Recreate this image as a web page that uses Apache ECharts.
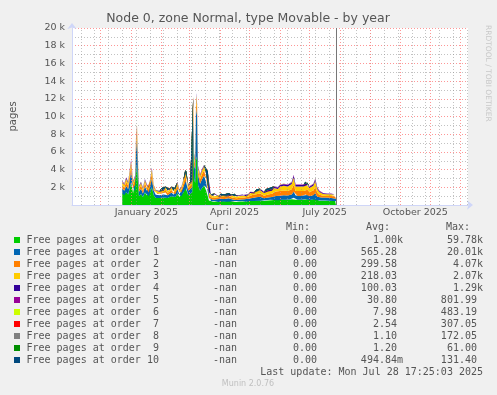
<!DOCTYPE html>
<html><head><meta charset="utf-8">
<script src="https://cdn.jsdelivr.net/npm/echarts@6/dist/echarts.min.js"></script>
<style>html,body{margin:0;padding:0;background:#F0F0F0}#c{width:497px;height:395px}</style>
</head><body><div id="c"></div>
<script>
const dates = [
'2024-12-23','2024-12-25','2024-12-27','2024-12-29','2024-12-31',
'2025-01-01','2025-01-03','2025-01-05','2025-01-06','2025-01-07',
'2025-01-08','2025-01-09','2025-01-11','2025-01-13','2025-01-15',
'2025-01-17','2025-01-19','2025-01-21','2025-01-22','2025-01-24',
'2025-01-26','2025-01-28','2025-01-30','2025-02-01','2025-02-03',
'2025-02-05','2025-02-07','2025-02-09','2025-02-11','2025-02-13',
'2025-02-15','2025-02-17','2025-02-19','2025-02-21','2025-02-23',
'2025-02-25','2025-02-26','2025-02-28','2025-03-02','2025-03-04',
'2025-03-05','2025-03-06','2025-03-07','2025-03-08','2025-03-09',
'2025-03-10','2025-03-12','2025-03-14','2025-03-16','2025-03-18',
'2025-03-20','2025-03-21','2025-03-23','2025-03-25','2025-03-27',
'2025-03-29','2025-03-31','2025-04-02','2025-04-04','2025-04-06',
'2025-04-08','2025-04-10','2025-04-12','2025-04-14','2025-04-16',
'2025-04-18','2025-04-20','2025-04-22','2025-04-24','2025-04-26',
'2025-04-28','2025-04-30','2025-05-02','2025-05-04','2025-05-06',
'2025-05-08','2025-05-10','2025-05-12','2025-05-14','2025-05-16',
'2025-05-18','2025-05-20','2025-05-22','2025-05-24','2025-05-26',
'2025-05-28','2025-05-30','2025-06-01','2025-06-03','2025-06-05',
'2025-06-07','2025-06-09','2025-06-11','2025-06-13','2025-06-15',
'2025-06-17','2025-06-19','2025-06-21','2025-06-23','2025-06-25',
'2025-06-27','2025-06-29','2025-07-01','2025-07-03','2025-07-05',
'2025-07-07','2025-07-09','2025-07-11','2025-07-13','2025-07-15',
'2025-07-17','2025-07-19','2025-07-21','2025-07-23','2025-07-25',
'2025-07-27','2025-07-28'];

const order0 = [1300,1100,1450,1200,2000,2600,1300,1500,3500,4600,2500,1000,
 1250,900,1400,1100,1000,1600,2000,1100,
 800,900,800,900,850,1000,800,900,1000,850,900,1300,900,1000,1400,2000,1900,1100,1200,1400,
 6800,3000,2500,5500,5000,2200,1600,1900,2200,1700,1800,
 500,420,370,455,400,350,440,385,420,370,472,400,385,440,350,420,385,455,400,370,440,
 450,480,440,520,480,550,500,450,540,510,580,540,
 560,580,540,600,590,620,580,600,620,660,820,600,580,600,580,600,660,640,
 560,580,620,740,540,480,
 500,480,500,470,480,470,450,440,420];
const order1 = [600,500,700,600,1100,1300,600,800,2500,2900,1500,500,
 600,400,700,500,400,800,1000,500,
 350,350,300,400,350,400,300,350,400,300,350,500,300,400,600,900,900,500,600,600,
 2800,1500,1500,5500,5000,1200,800,1000,1100,900,900,
 300,265,230,285,255,220,275,242,265,230,297,255,242,275,220,265,242,285,255,230,275,
 300,320,290,350,320,370,330,300,360,340,390,360,
 420,440,400,450,460,480,440,460,480,520,680,460,440,450,440,460,520,500,
 420,440,480,600,400,340,
 350,340,350,330,340,330,320,310,300];
const order2 = [400,350,450,400,600,600,400,500,800,800,500,300,
 350,300,400,300,300,500,600,300,
 250,250,200,250,200,300,250,250,300,200,250,350,250,300,400,500,500,300,400,350,
 1300,700,600,900,800,500,500,600,600,500,500,
 250,215,190,235,205,180,225,198,215,190,243,205,198,225,180,215,198,235,205,190,225,
 300,320,290,350,320,370,330,300,360,340,390,360,
 480,500,450,520,520,540,500,520,540,600,800,520,500,520,500,520,600,570,
 480,500,540,700,450,340,
 240,230,240,220,235,220,215,200,195];
const order3 = [350,300,350,300,450,400,300,350,500,450,400,250,
 300,250,300,300,250,350,450,250,
 200,200,200,250,200,250,200,200,250,200,250,300,200,250,300,400,400,250,300,300,
 800,450,400,500,450,350,400,400,450,400,400,
 250,205,180,220,195,170,212,187,205,180,230,195,187,212,170,205,187,220,195,180,212,
 300,320,290,350,320,370,330,300,360,340,390,360,
 450,470,430,500,510,540,480,500,540,580,780,500,480,510,480,500,580,560,
 450,470,540,680,430,310,
 210,205,210,195,205,195,185,180,170];
const order4 = [100,100,120,100,150,150,100,110,200,150,120,90,
 100,90,100,100,90,120,150,90,
 80,80,70,80,70,90,80,80,90,70,80,100,80,90,100,120,120,90,100,100,
 250,150,130,180,160,120,110,120,130,120,120,
 100,72,63,78,70,60,75,66,72,63,81,70,66,75,60,72,66,78,70,63,75,
 110,115,100,125,115,135,118,110,130,122,140,130,
 150,160,140,170,165,175,160,170,175,190,250,170,160,170,160,170,190,180,
 150,160,175,215,140,95,
 65,65,70,60,65,60,58,55,50];
const order5 = [40,30,40,35,50,50,35,40,60,50,40,30,
 35,30,35,35,30,40,50,30,
 25,25,20,25,20,30,25,25,30,20,25,35,25,30,35,40,40,30,35,35,
 100,50,45,60,55,40,40,40,45,40,40,
 30,24,21,26,23,20,25,22,24,21,27,23,22,25,20,24,22,26,23,21,25,
 38,40,35,45,40,48,42,38,45,42,50,45,
 45,50,45,55,55,55,50,55,55,60,80,55,50,55,50,55,60,60,
 45,50,55,70,45,35,
 25,25,25,22,25,22,20,20,18];
const order6 = [8,7,9,8,10,12,8,9,20,150,10,7,
 8,7,8,8,7,9,12,7,
 6,6,5,6,5,7,6,6,7,5,6,8,6,7,8,10,10,7,8,8,
 120,15,10,20,14,9,9,9,10,9,9,
 7,6,5,7,6,5,7,6,6,5,7,6,5,7,5,6,5,7,6,5,7,
 7,8,7,9,8,9,8,7,9,8,10,8,
 9,10,9,11,10,12,10,12,14,16,11,10,12,10,11,13,11,12,
 11,12,15,14,10,9,
 8,7,8,7,7,7,8,7,6];
const order7 = [2,2,3,2,3,3,2,2,300,20,3,2,
 2,2,2,2,2,3,3,2,
 2,2,1,2,1,2,2,2,2,1,2,2,2,2,2,3,3,2,2,2,
 8,5,3,6,4,3,3,3,3,3,3,
 2,2,1,2,2,1,2,1,2,1,2,2,1,2,1,2,1,2,2,1,2,
 2,2,2,3,2,3,2,2,3,2,3,2,
 3,3,3,3,3,4,3,4,4,5,3,3,4,3,3,4,3,4,
 3,4,4,4,3,40,
 40,2,2,2,2,2,2,2,2];
const order8 = [1,1,1,1,2,2,1,1,5,4,2,1,
 1,1,1,1,1,1,2,1,
 1,1,1,1,1,1,1,1,1,1,1,1,1,1,1,2,2,1,1,1,
 60,4,2,8,3,2,1,1,2,1,1,
 1,1,1,1,1,1,1,1,1,1,1,1,1,1,1,1,1,1,1,1,1,
 1,1,1,1,1,1,1,1,1,1,1,1,
 1,1,1,1,1,1,1,1,1,1,1,1,1,1,1,1,1,1,
 1,1,1,1,1,1,
 1,1,1,1,1,1,1,1,1];
const order9 = [1,1,1,1,2,2,1,1,4,3,2,1,
 1,1,1,1,1,1,2,1,
 1,1,1,1,1,1,1,1,1,1,1,1,1,1,1,2,2,1,1,1,
 50,6,3,20,3,2,2,1,2,1,1,
 1,1,1,1,1,1,1,1,1,1,1,1,1,1,1,1,1,1,1,1,1,
 1,1,1,1,1,1,1,1,1,1,1,1,
 1,1,1,1,1,1,1,1,1,1,1,1,1,1,1,1,1,1,
 1,1,1,1,1,1,
 1,1,1,1,1,1,1,1,1];
const order10 = [1,0,1,1,1,2,1,1,3,3,1,0,
 0,0,1,0,0,1,1,0,
 0,0,0,0,0,1,0,0,1,0,0,1,0,0,1,1,1,0,1,0,
 10,5,5,40,20,2,1,1,2,1,1,
 0,0,0,0,0,0,0,0,0,0,0,0,0,0,0,0,0,0,0,0,0,
 0,1,0,1,0,1,0,0,1,0,1,0,
 1,0,1,1,0,1,1,1,1,2,1,0,1,0,1,1,0,1,
 1,1,1,1,0,0,
 0,0,0,0,0,0,0,0,0];

const seriesNames = ['Free pages at order  0','Free pages at order  1','Free pages at order  2','Free pages at order  3',
 'Free pages at order  4','Free pages at order  5','Free pages at order  6','Free pages at order  7',
 'Free pages at order  8','Free pages at order  9','Free pages at order 10'];
const seriesColors = ['#00CC00','#0066B3','#FF8000','#FFCC00','#330099','#990099','#CCFF00','#FF0000','#808080','#008F00','#00487D'];
const curVals = ['-nan','-nan','-nan','-nan','-nan','-nan','-nan','-nan','-nan','-nan','-nan'];
const minVals = ['0.00','0.00','0.00','0.00','0.00','0.00','0.00','0.00','0.00','0.00','0.00'];
const avgVals = ['1.00k','565.28 ','299.58 ','218.03 ','100.03 ','30.80 ','7.98 ','2.54 ','1.10 ','1.20 ','494.84m'];
const maxVals = ['59.78k','20.01k','4.07k','2.07k','1.29k','801.99 ','483.19 ','307.05 ','172.05 ','61.00 ','131.40 '];
const colHeaders = ['Cur:','Min:','Avg:','Max:'];
const xLabelMonths = ['2025-01-01','2025-04-01','2025-07-01','2025-10-01'];
const xLabels = ['January 2025','April 2025','July 2025','October 2025'];
const monthStarts = ['2024-12-01','2025-01-01','2025-02-01','2025-03-01','2025-04-01','2025-05-01','2025-06-01',
 '2025-07-01','2025-08-01','2025-09-01','2025-10-01','2025-11-01','2025-12-01'];
const xMin = '2024-11-02', xMax = '2025-12-09';
const lastUpdate = '2025-07-28 17:25:03';
const titleText = 'Node 0, zone Normal, type Movable - by year';

const allOrders = [order0,order1,order2,order3,order4,order5,order6,order7,order8,order9,order10];
const DAY = 86400000;
function ts(s){ return echarts.time.parse(s).getTime(); }

const labelPos = xLabelMonths.map(m => {
  const d = echarts.time.parse(m);
  const next = new Date(d.getFullYear(), d.getMonth()+1, 1).getTime();
  return (d.getTime() + next) / 2;
});
const minorLines = [];
for (let t = ts('2024-11-11'); t < ts(xMax); t += 14*DAY) minorLines.push(t);

const gridLineSeries = {
  type: 'line', data: [[ts(xMin), null]], showSymbol: false, silent: true, z: 1,
  lineStyle: {width: 0},
  markLine: {
    silent: true, symbol: ['none','none'], animation: false, label: {show: false},
    data: minorLines.map(t => ({xAxis: t, lineStyle: {color: 'rgba(143,143,143,0.55)', type: [1,2], width: 1}}))
      .concat(monthStarts.map(m => ({xAxis: ts(m), lineStyle: {color: 'rgba(254,124,124,0.8)', type: [1,2], width: 1}})))
  }
};
const nowSeries = {
  type: 'line', data: [[ts(xMin), null]], showSymbol: false, silent: true, z: 5,
  lineStyle: {width: 0},
  markLine: {silent: true, symbol: ['none','none'], animation: false, label: {show:false},
    data: [{xAxis: ts(lastUpdate), lineStyle: {color: '#777', type: 'solid', width: 1}}]}
};

const areaSeries = allOrders.map((arr, i) => ({
  name: seriesNames[i], type: 'line', stack: 'total', z: 2,
  data: arr.map((v, j) => [dates[j], v]),
  showSymbol: false, sampling: 'none', silent: true,
  lineStyle: {width: 0}, areaStyle: {color: seriesColors[i], opacity: 1},
  itemStyle: {color: seriesColors[i]}, animation: false
}));

const TXT = '#555';
const graphics = [
  {type: 'text', x: 248, y: 19, style: {text: titleText, fill: TXT, font: '12.5px "DejaVu Sans"', align: 'center', verticalAlign: 'middle'}},
  {type: 'text', x: 488, y: 25, rotation: -Math.PI/2, style: {text: 'RRDTOOL / TOBI OETIKER', fill: '#c8c8c8', font: '7.5px "DejaVu Sans"', align: 'left', verticalAlign: 'middle'}},
];
const headerRight = [230, 310, 390, 470];
colHeaders.forEach((h, k) => graphics.push({type: 'text', x: headerRight[k], y: 227,
  style: {text: h, fill: TXT, font: '10px "DejaVu Sans Mono"', align: 'right', verticalAlign: 'middle'}}));
const colRight = [237, 317, 403, 483];
seriesNames.forEach((n, i) => {
  const y = 240 + 12 * i;
  graphics.push({type: 'rect', shape: {x: 14, y: y - 3, width: 6, height: 6}, style: {fill: seriesColors[i]}});
  graphics.push({type: 'text', x: 26.5, y: y, style: {text: n, fill: TXT, font: '10px "DejaVu Sans Mono"', align: 'left', verticalAlign: 'middle'}});
  [curVals[i], minVals[i], avgVals[i], maxVals[i]].forEach((v, k) => graphics.push({type: 'text', x: colRight[k], y: y,
    style: {text: v, fill: TXT, font: '10px "DejaVu Sans Mono"', align: 'right', verticalAlign: 'middle'}}));
});
graphics.push({type: 'text', x: 483, y: 372, style: {text: 'Last update: Mon Jul 28 17:25:03 2025', fill: TXT, font: '10px "DejaVu Sans Mono"', align: 'right', verticalAlign: 'middle'}});
graphics.push({type: 'text', x: 248, y: 384, style: {text: 'Munin 2.0.76', fill: '#c0c0c0', font: '8px "DejaVu Sans"', align: 'center', verticalAlign: 'middle'}});

const chart = echarts.init(document.getElementById('c'), null, {renderer: 'canvas'});
chart.setOption({
  backgroundColor: '#F0F0F0',
  animation: false,
  grid: {left: 66, right: 29, top: 28, bottom: 190, show: true, backgroundColor: '#FFFFFF', borderWidth: 0},
  xAxis: [{
    type: 'time', min: ts(xMin), max: ts(xMax), position: 'bottom',
    axisLine: {show: true, lineStyle: {color: '#CFD6F8'}, symbol: ['none','arrow'], symbolSize: [7,6], symbolOffset: [0,5]},
    axisTick: {show: false}, splitLine: {show: false}, axisLabel: {show: false}
  }, {
    type: 'value', min: ts(xMin), max: ts(xMax), position: 'bottom', offset: 0,
    axisLine: {show: false}, axisTick: {show: false}, splitLine: {show: false},
    axisLabel: {customValues: labelPos, color: TXT, fontFamily: 'DejaVu Sans', fontSize: 9.5, margin: 3,
      formatter: v => { const k = labelPos.findIndex(p => Math.abs(p - v) < DAY); return k >= 0 ? xLabels[k] : ''; }}
  }],
  yAxis: {
    type: 'value', min: 0, max: 20000, interval: 2000,
    axisLine: {show: true, lineStyle: {color: '#CFD6F8'}, symbol: ['none','arrow'], symbolSize: [7,6], symbolOffset: [0,5]},
    axisTick: {show: false},
    axisLabel: {color: TXT, fontFamily: 'DejaVu Sans', fontSize: 9.5, margin: 7, formatter: v => v === 0 ? '' : (v/1000) + ' k'},
    splitLine: {show: true, lineStyle: {color: 'rgba(254,124,124,0.8)', type: [1,2], width: 1}},
    minorTick: {show: false, splitNumber: 2},
    minorSplitLine: {show: true, lineStyle: {color: 'rgba(143,143,143,0.55)', type: [1,2], width: 1}},
    name: 'pages', nameLocation: 'middle', nameGap: 54, nameRotate: 90,
    nameTextStyle: {color: TXT, fontFamily: 'DejaVu Sans', fontSize: 10}
  },
  series: [gridLineSeries].concat(areaSeries).concat([nowSeries]),
  graphic: graphics
});
</script>
</body></html>
